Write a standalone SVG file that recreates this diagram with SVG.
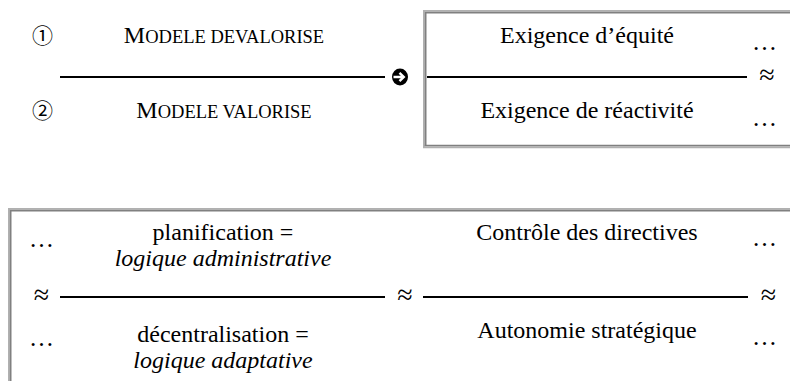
<svg xmlns="http://www.w3.org/2000/svg" width="790" height="381" viewBox="0 0 790 381">
<style>
.t{font-family:'Liberation Serif','DejaVu Serif',serif;font-size:24px;fill:#000}
.sc{font-size:18.5px}
.c{text-anchor:middle}
.i{font-style:italic}
.el{font-size:25px}
.ap{font-size:28px}
.sym{font-family:'Noto Sans CJK JP','DejaVu Sans',sans-serif;font-size:21px;text-anchor:middle;fill:#000}
.ln{stroke:#000;stroke-width:2;fill:none}
.bl{stroke:#b0b0b0;stroke-width:1.8;fill:none}
.bd{stroke:#808080;stroke-width:1.8;fill:none}
</style>
<rect width="790" height="381" fill="#fff"/>
<g id="legend">
<text class="sym" x="42.5" y="42.5">①</text>
<text class="t c" x="224" y="42.5"><tspan>M</tspan><tspan class="sc">ODELE DEVALORISE</tspan></text>
<text class="sym" x="42.5" y="117.5">②</text>
<text class="t c" x="224" y="118"><tspan>M</tspan><tspan class="sc">ODELE VALORISE</tspan></text>
<g id="arrow-icon">
<ellipse cx="400" cy="77" rx="8" ry="8.5" fill="#000"/>
<path d="M393.5 77 H403.5 M399.5 72.8 L403.8 77 L399.5 81.2" stroke="#fff" stroke-width="2.4" fill="none"/>
</g>
</g>
<g id="box-top">
<path class="bl" d="M423.9 148 V10.9 H790"/>
<path class="bd" d="M425.6 146 V12.6 H790"/>
<path class="bd" d="M424.7 145.6 H790"/>
<path class="bl" d="M423 147.4 H790"/>
<text class="t c" x="587" y="42.5">Exigence d’équité</text>
<text class="t c" x="587" y="118">Exigence de réactivité</text>
<text class="t c el" x="764.5" y="49.5">…</text>
<text class="t c ap" x="767" y="84">≈</text>
<text class="t c el" x="764.5" y="126">…</text>
</g>
<g id="box-bottom">
<path class="bl" d="M8.9 381 V208.9 H790"/>
<path class="bd" d="M10.6 381 V210.6 H790"/>
<text class="t c el" x="41.5" y="246.5">…</text>
<text class="t c ap" x="41.5" y="304">≈</text>
<text class="t c el" x="41.5" y="345.5">…</text>
<text class="t c" x="223" y="240">planification =</text>
<text class="t c i" x="223" y="266">logique administrative</text>
<text class="t c" x="223" y="342">décentralisation =</text>
<text class="t c i" x="223" y="368">logique adaptative</text>
<text class="t c ap" x="405" y="304">≈</text>
<text class="t c" x="587" y="240">Contrôle des directives</text>
<text class="t c" x="587" y="338">Autonomie stratégique</text>
<text class="t c el" x="764.5" y="245.5">…</text>
<text class="t c ap" x="768.5" y="304">≈</text>
<text class="t c el" x="764.5" y="344.5">…</text>
</g>
<g id="connectors">
<line class="ln" x1="60" y1="77" x2="385" y2="77"/>
<line class="ln" x1="427" y1="77" x2="747" y2="77"/>
<line class="ln" x1="60" y1="297" x2="385" y2="297"/>
<line class="ln" x1="423" y1="297" x2="748" y2="297"/>
</g>
</svg>
